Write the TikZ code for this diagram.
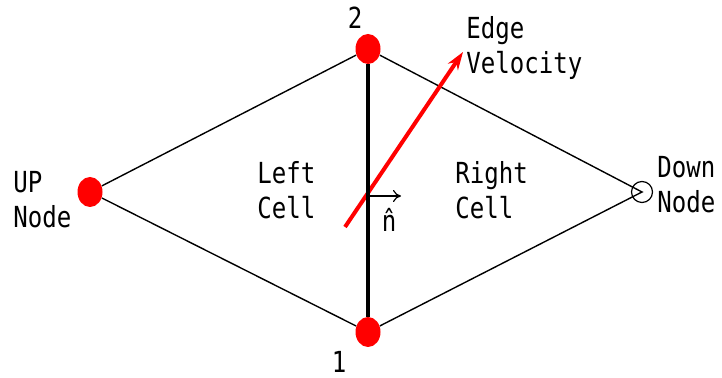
\documentclass[tikz,border=0pt]{standalone}
\usepackage{fontspec}
\newfontfamily\lblfont[FakeStretch=0.83]{DejaVu Sans Mono}
\usetikzlibrary{arrows.meta,shapes.geometric}
\begin{document}
\begin{tikzpicture}[x=0.5pt,y=-0.5pt,>=Stealth,
  dot/.style={ellipse,fill=red,inner sep=0pt,minimum width=12.5pt,minimum height=15pt},
  lbl/.style={inner sep=0pt,align=left,font=\lblfont\fontsize{14.5}{17.5}\selectfont}]
  \useasboundingbox (0,0) rectangle (722,378);
  % vertices of the two cells
  \node[dot] (n2) at (368,49) {};
  \node[dot] (n1) at (368,332) {};
  \node[dot] (up) at (90,192) {};
  \node[draw,circle,inner sep=0pt,minimum size=10.5pt,line width=0.6pt] (down) at (642,192) {};

  % outline of left and right cell
  \draw[line width=0.7pt] (up) -- (n2) -- (down.center) -- (n1) -- (up);

  % edge velocity, lies behind the shared edge
  \coordinate (vtail) at (345,227);
  \coordinate (vhead) at (463,52);
  \draw[-{Stealth[length=9pt,width=6pt]},red,line width=2pt] (vtail) -- (vhead);

  % shared edge 1-2
  \draw[line width=1.8pt] (n2) -- (n1);

  % face normal
  \coordinate (mid) at (368,196);
  \coordinate (nend) at (401,196);
  \draw[-{To[length=4pt,width=6pt]},line width=0.6pt] (mid) -- (nend);
  \node[lbl,anchor=base] (nhat) at (389,232) {\^{n}};

  % labels
  \node[lbl,anchor=north west] (vlab) at (466,16) {Edge\\Velocity};
  \node[lbl,anchor=north west] (uplab) at (13,171) {UP\\Node};
  \node[lbl,anchor=north west] (downlab) at (657,156) {Down\\Node};
  \node[lbl,anchor=north west] (leftlab) at (257,161) {Left\\Cell};
  \node[lbl,anchor=north west] (rightlab) at (455,161) {Right\\Cell};
  \node[lbl] (lab2) at (355,18) {2};
  \node[lbl] (lab1) at (339,362) {1};
\end{tikzpicture}
\end{document}
